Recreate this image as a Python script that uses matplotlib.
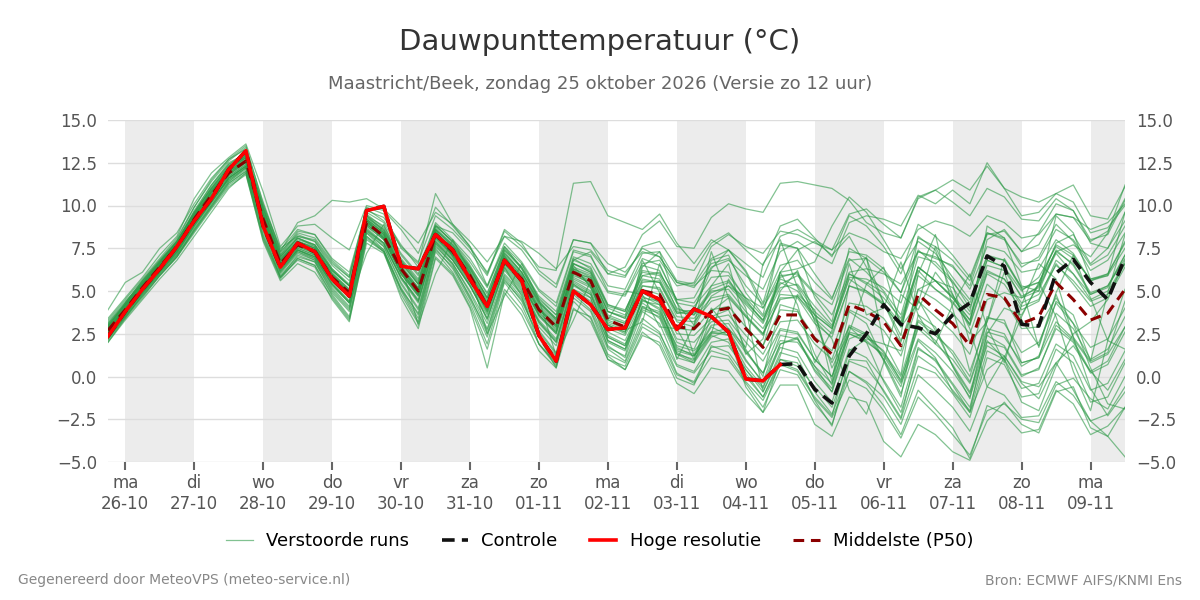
import numpy as np
import pandas as pd
import matplotlib
matplotlib.use('Agg')
import matplotlib.pyplot as plt
import matplotlib.dates as mdates
from matplotlib.lines import Line2D

# 6-hourly steps, zo 25-10 18 uur t/m ma 09-11 12 uur
times = pd.date_range('2026-10-25 18:00', '2026-11-09 12:00', freq='6h')
days = pd.date_range('2026-10-26', '2026-11-09', freq='D')
weekdays = ['ma', 'di', 'wo', 'do', 'vr', 'za', 'zo']
day_labels = [f"{weekdays[d.weekday()]}\n{d:%d-%m}" for d in days]

hires = [2.35, 3.8, 5.1, 6.3, 7.6, 9.1, 10.4, 12.1, 13.2, 8.8,
         6.4, 7.8, 7.3, 5.7, 4.7, 9.7, 9.95, 6.45, 6.3, 8.3,
         7.4, 5.7, 4.1, 6.8, 5.6, 2.4, 0.9, 5.0, 4.2, 2.75,
         2.85, 5.0, 4.5, 2.75, 3.95, 3.5, 2.6, -0.15, -0.25, 0.7]

control = hires + [0.75, -0.75, -1.55, 1.2, 2.5, 4.2, 3.05, 2.85, 2.5, 3.6,
                   4.3, 7.05, 6.45, 3.05, 2.95, 6.05, 6.85, 5.5, 4.5, 6.95]

p50 = [2.7, 3.9, 5.2, 6.4, 7.6, 9.2, 10.6, 11.9, 12.6, 9.2,
       6.6, 7.7, 7.3, 5.8, 4.9, 9.0, 8.2, 6.3, 5.0, 8.3,
       7.3, 5.9, 4.1, 6.8, 5.7, 3.9, 2.9, 6.1, 5.6, 3.3,
       2.9, 5.0, 4.8, 2.9, 2.8, 3.8, 4.0, 2.8, 1.7, 3.6,
       3.6, 2.2, 1.3, 4.2, 3.8, 3.2, 1.8, 4.8, 3.9, 3.1,
       1.8, 4.8, 4.6, 3.1, 3.5, 5.5, 4.5, 3.3, 3.7, 5.1]

members = [
    [3.0,4.2,5.5,6.6,7.9,9.6,11.0,12.3,12.9,9.8, 7.0,8.1,7.6,6.2,5.3,9.4,8.5,6.8,5.6,8.9, 7.8,6.4,4.6,7.4,6.3,4.6,3.6,6.9,6.3,4.1, 3.8,6.1,5.9,4.0,3.6,4.9,5.3,4.2,3.1,5.2, 5.4,4.1,3.0,6.0,5.5,4.9,3.2,6.4,5.6,4.6, 3.3,6.5,6.2,4.7,5.2,7.2,6.0,4.8,5.3,6.9],
    [2.4,3.6,4.9,6.1,7.2,8.8,10.2,11.6,12.3,8.7, 6.1,7.3,6.9,5.3,4.3,8.5,7.8,5.8,4.4,7.8, 6.8,5.3,3.4,6.2,5.0,3.2,2.1,5.4,4.8,2.4, 1.9,4.1,3.8,1.8,1.5,2.6,2.8,1.4,0.2,2.1, 2.0,0.6,-0.4,2.5,2.0,1.3,-0.2,2.8,1.9,1.0, -0.4,2.6,2.3,0.8,1.1,3.2,2.2,0.8,1.3,2.9],
    [2.9,4.3,5.6,6.8,8.0,9.9,11.4,12.6,13.4,10.2, 7.4,8.6,8.3,6.9,6.1,9.8,9.1,7.6,6.7,9.4, 8.6,7.5,6.1,8.2,7.4,6.0,5.2,8.0,7.8,6.0, 5.8,7.6,7.9,6.4,6.2,7.8,8.4,7.4,6.5,8.8, 9.2,8.1,7.0,9.4,8.8,7.6,6.0,8.9,8.2,7.1, 5.8,8.4,8.1,6.4,7.0,8.9,7.9,6.2,6.8,8.4],
    [2.2,3.5,4.7,5.9,7.0,8.6,10.0,11.4,12.1,8.3, 5.9,7.0,6.7,4.9,3.8,8.2,7.4,5.2,3.6,7.4, 6.4,4.7,2.5,5.7,4.4,2.3,1.2,4.8,3.9,1.6, 0.9,3.4,2.6,0.2,-0.4,1.2,1.0,-0.4,-1.8,0.4, 0.1,-1.6,-2.8,0.3,-0.3,-1.2,-2.8,0.1,-0.8,-1.8, -3.2,-0.6,-1.1,-2.4,-2.3,-0.3,-1.1,-2.6,-2.2,-0.6],
    [3.4,4.6,5.8,7.1,8.2,10.4,11.9,12.8,13.6,10.8, 7.6,8.8,8.9,8.1,7.4,10.0,9.7,8.6,7.2,9.9, 8.8,7.6,5.3,7.6,6.3,4.4,3.3,6.8,7.3,6.0, 6.4,8.3,9.1,7.6,7.5,9.3,10.1,9.8,9.6,11.3, 11.4,11.2,11.0,10.3,9.0,8.4,8.1,10.4,10.9,11.5, 10.9,12.3,11.0,10.5,10.2,10.7,11.2,9.4,9.2,11.1],
    [2.0,3.3,4.5,5.7,6.8,8.2,9.6,11.0,11.9,7.9, 5.6,6.6,6.1,4.6,3.3,7.8,7.2,4.8,3.1,7.0, 6.0,4.1,1.6,5.1,3.9,1.9,0.7,4.0,3.2,1.0, 0.4,2.6,1.8,-0.4,-1.0,0.5,0.3,-1.0,-2.1,-0.5, -0.5,-2.8,-3.5,-1.2,-1.5,-3.8,-4.7,-2.8,-3.4,-4.4, -4.9,-2.6,-1.5,-2.8,-3.3,-0.9,-0.6,-3.0,-3.5,-4.7],
    [2.6,4.0,5.3,6.5,7.6,9.3,10.8,12.0,12.8,9.5, 6.8,7.9,7.1,5.6,4.6,9.2,8.0,6.0,4.8,8.6, 7.0,5.6,3.8,7.1,5.4,3.6,2.6,6.5,5.2,3.0, 2.5,6.4,7.3,4.3,3.0,5.3,6.6,2.9,1.8,5.0, 6.2,3.6,0.5,2.6,5.4,6.4,2.9,4.3,7.6,5.4, 2.0,3.2,6.1,3.3,1.8,4.9,7.1,4.6,2.1,1.6],
    [3.2,4.4,5.4,6.7,7.8,9.6,11.2,12.5,13.0,10.0, 7.5,8.2,8.0,6.6,5.8,9.6,9.0,7.2,6.0,9.0, 8.0,6.9,5.3,7.8,6.7,5.1,4.3,7.4,7.1,5.0, 4.8,6.9,6.5,4.5,4.3,5.8,5.9,4.6,3.5,5.5, 5.0,3.6,2.8,5.7,5.0,4.3,3.1,6.2,5.1,4.4, 3.0,6.0,5.4,3.9,4.4,6.6,5.4,4.1,4.6,6.4],
    [2.3,3.7,5.0,6.2,7.3,8.9,10.3,11.5,12.2,8.9, 6.3,7.4,7.0,5.4,4.3,7.2,8.9,6.6,3.0,6.0, 8.0,6.1,2.5,4.7,6.6,4.5,1.2,3.3,5.6,2.1, 1.6,4.1,3.4,1.1,0.8,2.3,2.7,1.0,-0.4,1.9, 2.3,0.3,-0.9,2.6,2.3,1.5,-0.3,3.2,2.4,1.5, 0.0,3.5,3.1,1.4,2.0,4.3,3.1,1.7,2.2,4.0],
    [2.8,4.1,5.3,6.6,7.7,9.4,10.9,12.1,12.9,9.4, 6.9,7.9,7.6,6.0,5.1,9.2,8.4,6.6,5.4,8.6, 7.6,6.3,4.6,7.3,6.1,4.4,3.4,6.6,6.1,4.2, 3.8,6.2,6.0,4.5,4.6,6.4,6.8,5.9,5.1,7.3, 7.9,7.2,6.6,9.0,9.4,9.2,8.8,10.6,10.1,10.9, 10.1,12.5,11.0,9.4,9.6,10.7,10.2,8.4,8.7,10.0],
    [2.1,3.4,4.8,6.0,7.1,8.5,9.9,11.3,12.0,8.1, 5.8,6.8,6.4,4.5,3.2,8.0,7.3,4.6,2.8,6.9, 5.9,4.0,0.5,4.9,3.6,1.5,0.5,3.9,3.5,1.2, 0.4,2.4,2.0,-0.1,-0.5,1.8,1.4,0.0,-1.2,1.0, 0.6,-0.6,-1.8,1.0,0.9,-0.9,-2.5,0.6,0.2,-1.0, -2.4,1.1,0.7,-1.2,-1.0,1.6,0.8,-1.5,-1.2,0.8],
    [3.1,4.3,5.6,6.7,7.9,9.5,11.1,12.4,13.1,9.9, 7.1,8.4,8.1,6.7,5.8,9.7,9.3,7.7,6.4,8.8, 8.4,7.3,5.9,8.5,7.6,6.4,6.2,11.3,11.4,9.4, 9.0,8.6,9.5,7.8,6.6,8.0,7.4,6.2,4.3,7.7, 7.5,6.0,4.6,6.9,6.1,5.0,3.6,7.0,6.7,5.6, 4.0,7.1,6.8,5.2,5.5,7.7,7.1,5.6,5.9,7.5],
    [2.5,3.8,5.1,6.3,7.5,9.0,10.5,11.8,12.5,9.1, 6.5,7.6,7.4,5.9,4.9,9.1,8.1,6.2,4.8,8.5, 7.2,5.8,4.0,6.9,5.5,3.7,2.8,6.3,5.3,3.1, 2.7,3.2,6.6,4.4,1.2,2.5,5.7,4.0,-0.9,1.2, 4.8,3.9,-0.3,5.4,7.0,2.0,0.1,6.0,8.3,4.0, 0.3,3.2,6.9,5.2,1.7,4.8,2.3,-0.7,-2.3,-0.9],
    [2.9,4.1,5.4,6.5,7.7,9.3,10.7,12.2,12.8,9.3, 6.7,7.8,7.5,6.1,5.1,9.1,8.3,6.4,5.2,8.4, 7.4,6.0,4.3,7.0,5.9,4.0,3.0,6.0,5.8,3.5, 3.1,5.5,5.6,3.7,3.9,6.3,7.4,6.1,4.0,5.8, 6.1,3.2,0.8,2.9,2.0,-0.3,-2.1,1.2,0.5,-0.8, -2.0,2.5,4.0,3.6,5.4,7.8,8.3,6.6,7.5,9.6],
    [2.6,3.9,5.2,6.4,7.6,9.2,10.6,11.8,12.6,9.0, 6.4,7.6,7.2,5.7,4.7,8.9,8.1,6.1,4.9,8.2, 7.1,5.8,4.0,6.6,5.6,3.8,2.7,5.9,5.5,3.2, 2.8,6.8,4.9,1.0,3.0,7.3,4.6,1.3,2.2,6.1, 4.2,0.8,2.7,6.6,3.6,4.0,6.7,3.6,1.9,4.2, 6.0,2.9,0.8,4.2,6.6,5.7,2.3,0.9,4.9,8.3],
    [2.3,3.6,4.9,6.1,7.2,8.7,10.1,11.4,12.2,8.6, 6.0,7.2,6.8,5.1,4.0,8.4,7.6,5.4,3.9,7.6, 6.6,4.9,2.8,5.9,4.8,2.7,1.4,5.0,4.1,1.8, 1.1,3.8,3.1,0.7,0.3,2.0,2.2,0.4,-0.9,1.4, 1.1,-0.9,-2.2,0.3,-0.4,-1.7,-3.4,-0.8,-1.9,-3.0, -4.8,-1.7,-2.2,-3.3,-3.1,-0.8,-1.6,-3.4,-2.9,-1.8],
    [2.8,4.0,5.2,6.5,7.7,9.4,10.8,12.0,12.7,9.4, 6.8,7.9,7.5,6.0,5.0,9.2,8.4,6.4,5.1,8.4, 7.5,6.1,4.4,7.1,6.0,4.2,3.2,6.4,6.0,3.8, 3.4,5.6,5.5,3.7,3.7,5.1,5.5,4.3,3.3,5.9, 6.0,4.9,4.2,6.8,6.9,6.1,4.9,8.1,7.6,6.8, 5.6,8.4,8.0,6.6,6.8,8.6,8.0,6.5,7.1,8.8],
    [2.4,3.7,5.0,6.2,7.4,8.9,10.2,11.6,12.3,8.8, 6.2,7.4,7.0,5.4,4.4,8.6,7.7,5.8,4.5,7.9, 6.8,5.3,3.6,6.4,4.7,1.9,0.6,5.1,4.4,2.1, 1.6,4.5,3.9,1.6,1.3,3.0,3.1,1.5,0.2,2.7, 2.5,1.0,0.0,3.0,2.5,1.4,0.0,3.3,2.6,1.3, -0.3,2.8,2.5,0.6,1.2,3.7,2.8,1.0,1.6,3.5],
    [3.3,4.5,5.7,6.9,8.1,9.9,11.5,12.7,13.3,9.9, 7.3,9.0,9.4,10.3,10.2,10.4,9.8,8.8,7.8,9.6, 8.9,7.9,6.7,8.2,7.9,7.2,6.3,7.6,7.4,6.2, 5.9,7.5,7.0,5.5,5.2,6.6,6.9,5.3,4.2,6.5, 6.8,5.5,4.5,7.3,7.1,6.3,4.9,7.4,6.5,5.5, 4.3,6.8,6.4,5.0,5.8,7.6,6.9,5.7,6.0,7.8],
    [2.5,3.8,5.0,6.2,7.4,9.0,10.4,11.7,12.4,9.0, 6.4,7.5,7.1,5.6,4.6,8.8,8.0,6.0,4.7,8.1, 7.0,5.5,3.7,6.5,5.3,3.3,2.2,5.6,5.0,2.6, 2.1,4.3,3.6,1.4,0.9,2.4,2.0,0.2,-1.2,0.8, 0.4,-1.2,-2.3,1.5,2.2,1.9,1.5,5.1,5.6,5.2, 3.8,8.0,8.6,7.3,8.4,10.1,9.7,8.0,8.3,10.3],
    [2.9,4.2,5.5,6.7,7.9,9.7,11.2,12.4,13.0,9.7, 7.2,8.5,8.3,6.8,5.9,9.9,9.5,7.5,6.6,10.7, 8.9,7.6,6.0,8.6,7.8,6.2,5.4,8.0,7.8,6.6, 6.1,7.3,7.0,5.5,5.3,6.2,6.1,4.5,3.2,5.7, 5.3,3.8,2.9,6.0,5.4,4.6,3.4,6.4,5.6,4.7, 3.6,6.2,5.7,4.3,4.8,6.5,5.6,4.4,4.8,6.6],
    [2.2,3.5,4.8,6.0,7.1,8.6,10.0,11.3,12.0,8.5, 5.8,7.1,6.7,5.0,3.9,8.4,7.4,5.1,3.7,7.7, 6.5,4.6,2.7,5.8,4.6,2.6,1.3,5.4,4.6,1.7, 1.2,4.7,4.2,1.3,0.8,3.5,3.9,1.6,0.0,4.2, 3.9,1.3,-0.5,3.8,3.1,0.9,-1.2,3.6,2.9,0.6, -1.3,3.4,3.3,0.8,1.1,4.4,3.6,0.9,1.4,4.4],
    [3.9,5.5,6.1,7.5,8.4,10.1,11.6,12.7,13.5,10.1, 7.3,8.3,7.9,6.3,5.3,9.5,8.7,6.8,5.5,8.8, 7.9,6.5,4.8,7.5,6.4,4.5,3.6,6.8,6.4,4.2, 3.9,5.9,6.1,4.3,4.1,5.3,5.6,4.4,3.3,5.4, 5.9,4.8,3.6,6.1,6.3,6.0,5.4,7.3,6.9,6.5, 5.1,7.6,7.3,6.1,6.3,8.0,7.2,5.6,6.0,7.9],
    [2.0,3.4,4.6,5.9,7.0,8.4,9.8,11.1,11.8,8.0, 5.7,6.9,6.5,4.7,3.4,8.1,7.3,5.0,3.2,7.3, 6.1,4.3,1.9,5.5,4.2,1.9,0.8,4.4,3.4,1.0, 0.6,2.9,2.3,0.1,-0.3,1.7,1.8,0.4,-0.7,1.9, 2.2,0.6,-0.9,2.2,2.6,1.0,-1.0,2.1,1.1,-0.9, -2.1,0.4,1.2,-0.4,-1.3,0.8,1.8,0.3,-0.8,1.0],
    [3.1,4.3,5.6,6.8,7.9,9.6,11.0,12.3,13.0,9.8, 7.1,8.2,7.9,6.5,5.6,9.4,8.8,7.1,5.9,8.8, 7.9,6.7,5.2,7.6,6.6,5.0,4.1,7.3,7.0,5.3, 5.1,7.2,7.3,5.6,5.4,6.9,7.4,6.6,5.8,8.2, 8.6,8.0,7.4,9.5,9.8,8.9,8.1,10.5,10.9,10.2, 9.4,11.0,10.5,9.2,9.1,10.4,9.7,7.8,7.5,9.1],
    [2.7,4.0,5.3,6.5,7.6,9.2,10.6,11.9,12.6,9.3, 6.7,7.8,7.4,5.9,4.9,9.0,8.3,6.3,5.1,8.3, 7.3,5.9,4.2,6.9,5.8,4.0,3.0,6.2,5.7,3.4, 3.1,5.3,5.1,3.2,2.9,4.7,5.3,4.6,4.0,6.1, 6.3,6.7,8.8,10.5,9.6,8.0,6.3,7.9,7.2,5.8, 4.5,7.0,6.8,5.1,5.5,7.3,6.6,4.9,5.3,7.1],
    [2.4,3.7,5.0,6.2,7.3,8.8,10.2,11.6,12.3,8.8, 6.2,7.4,6.9,5.4,4.3,8.7,7.8,5.7,4.3,8.0, 6.9,5.4,3.3,6.4,5.2,3.2,2.0,5.5,4.9,2.3, 1.8,4.5,4.0,1.7,1.2,2.9,2.4,-0.6,-2.1,1.0, 0.8,-1.4,-2.9,0.9,0.5,-0.8,-2.4,1.6,1.0,-0.4, -1.8,2.0,1.7,0.0,0.5,2.8,2.0,0.2,0.7,2.6],
    [3.0,4.2,5.4,6.6,7.8,9.5,10.9,12.2,12.9,9.6, 7.0,8.1,7.7,6.3,5.4,9.3,8.6,6.9,5.7,8.6, 7.7,6.4,4.9,7.4,6.4,4.7,3.8,7.0,6.6,4.9, 4.7,6.6,6.8,5.3,5.5,7.6,8.3,7.6,7.2,8.5, 8.3,7.8,7.4,8.4,8.0,7.3,6.9,8.6,9.1,8.8, 8.2,9.4,9.0,8.1,8.3,9.5,9.3,8.6,9.0,10.1],
    [2.6,3.9,5.1,6.3,7.5,9.1,10.5,11.8,12.5,9.1, 6.5,7.7,7.3,5.7,4.8,8.9,8.1,6.2,4.9,8.2, 7.2,5.7,3.9,6.7,5.5,3.6,2.5,6.0,5.4,3.0, 2.6,4.9,4.3,2.0,1.6,3.8,4.6,3.5,2.4,6.1, 7.4,7.9,7.1,8.2,6.4,4.3,2.1,4.5,2.7,0.6, -1.0,2.1,1.0,-1.5,-2.0,0.6,2.5,3.2,4.5,6.8],
    [2.3,3.6,4.9,6.1,7.3,8.8,10.2,11.5,12.2,8.7, 6.1,7.3,6.8,5.2,4.1,8.5,7.6,5.5,4.0,7.8, 6.6,5.0,3.1,6.0,4.9,2.9,1.8,5.1,4.6,2.0, 1.5,3.9,3.5,1.3,1.0,2.5,2.6,0.9,-0.3,2.4, 2.2,0.4,-0.7,2.9,2.4,1.0,-0.6,3.0,2.1,0.7, -0.9,2.4,1.8,0.1,0.4,3.0,2.1,0.3,0.9,2.9],
    [2.8,4.0,5.3,6.5,7.7,9.3,10.8,12.0,12.7,9.3, 6.7,7.9,7.5,5.9,4.9,9.1,8.3,6.4,5.0,8.4, 7.4,6.0,4.1,6.9,5.7,3.9,2.9,6.1,5.5,3.3, 2.9,5.1,4.8,2.8,2.7,3.9,4.1,2.9,1.8,3.9, 3.8,2.3,1.5,4.3,4.1,3.4,2.0,5.1,4.5,3.7, 2.5,5.4,4.5,2.8,2.9,4.6,3.1,0.5,-1.6,-1.9],
    [2.9,4.2,5.4,6.6,7.8,9.4,10.8,12.1,12.8,9.5, 6.9,8.0,7.7,6.2,5.3,9.3,8.5,6.7,5.4,8.6, 7.6,6.2,4.5,7.2,6.1,4.3,3.4,6.6,6.2,4.0, 3.6,5.9,5.7,3.8,3.6,5.0,5.1,3.8,2.8,4.8, 4.7,3.4,2.5,5.3,4.9,4.2,2.9,5.9,5.1,4.3, 3.1,6.1,5.7,4.1,4.5,6.8,6.0,4.5,5.0,6.6],
    [2.2,3.5,4.7,5.9,7.0,8.5,9.9,11.2,11.9,8.2, 5.8,6.9,6.5,4.8,3.5,8.2,7.3,5.1,3.4,7.5, 6.3,4.5,2.3,5.6,4.5,2.3,0.5,4.6,3.8,1.3, 0.8,3.1,2.5,0.6,0.2,1.5,1.2,-0.3,-1.4,0.7, 0.3,-1.3,-2.4,-0.2,-0.7,-2.0,-3.6,-1.2,-2.2,-3.4, -4.6,-2.0,-1.6,-2.5,-2.7,-0.5,-0.1,-1.3,-1.9,0.0],
    [2.7,4.0,5.2,6.4,7.6,9.2,10.6,11.9,12.6,9.2, 6.6,7.7,7.3,5.8,4.9,9.0,8.2,6.3,5.0,8.3, 7.3,5.9,4.1,6.9,5.7,3.9,3.0,6.3,5.9,3.8, 3.5,6.5,6.2,3.9,3.8,6.8,7.1,4.9,3.6,7.8, 7.5,4.6,3.2,7.5,6.9,4.3,2.4,8.2,7.4,4.8, 3.0,8.8,8.1,5.3,5.0,9.4,8.4,5.7,5.9,9.6],
    [2.4,3.7,4.9,6.1,7.3,8.9,10.3,11.6,12.3,8.9, 6.3,7.4,7.0,5.5,4.4,8.6,7.8,5.8,4.4,7.9, 6.8,5.3,3.4,6.3,5.1,3.1,2.0,5.3,4.8,2.3, 1.8,4.0,3.7,1.5,1.2,2.6,2.4,0.6,-0.6,1.7, 1.4,-0.3,-1.5,1.6,1.1,-0.2,-1.8,1.7,0.9,-0.5, -2.1,1.5,1.0,-0.7,-0.4,1.9,1.2,-0.8,-0.4,1.5],
    [2.6,3.9,5.2,6.4,7.6,9.1,10.6,11.9,12.6,9.2, 6.6,7.7,7.3,5.8,4.9,9.0,8.2,6.3,5.0,8.3, 7.3,5.9,4.1,6.8,5.7,3.9,2.9,6.1,5.6,3.3, 5.0,4.8,2.9,2.8,1.0,4.0,2.8,1.7,6.6,8.0, 5.2,3.3,2.2,-0.8,-2.2,0.8,4.8,3.9,6.1,4.8, 2.8,-0.6,1.1,3.5,5.5,3.5,0.3,-2.0,2.1,5.1],
    [2.7,4.0,5.2,6.4,7.6,9.2,10.7,12.0,12.6,9.1, 6.5,7.6,7.2,5.7,4.7,8.9,8.1,6.1,4.8,8.2, 7.1,5.7,3.9,6.6,5.5,3.6,2.6,5.8,5.3,3.0, 2.6,4.6,4.4,2.5,2.4,3.4,3.6,2.4,1.3,3.2, 3.3,1.9,1.0,3.9,3.4,2.7,1.2,4.4,3.5,2.6, 1.3,4.5,4.9,4.6,5.3,7.3,7.7,7.0,8.4,11.2],
    [3.0,4.2,5.5,6.7,7.9,9.5,11.0,12.2,12.9,9.6, 7.0,8.1,7.7,6.2,5.3,9.4,8.6,6.7,5.4,8.7, 7.7,6.3,4.6,7.2,6.1,4.3,3.3,6.6,6.1,3.8, 3.4,5.7,5.5,3.5,3.4,4.6,4.8,3.6,2.5,4.6, 4.6,3.1,2.3,5.3,5.0,4.2,2.9,6.4,5.6,4.6, 3.3,6.8,6.4,4.6,5.0,7.4,6.5,4.8,5.2,7.1],
    [2.5,3.8,5.1,6.3,7.5,9.0,10.4,11.7,12.4,9.0, 6.4,7.5,7.1,5.6,4.6,8.8,8.0,6.0,4.7,8.1, 7.1,5.6,3.8,6.6,5.4,3.5,2.5,5.7,5.2,2.8, 2.4,4.4,4.2,2.2,2.0,3.2,3.3,2.0,0.9,2.8, 2.6,1.0,0.0,2.5,2.1,1.2,-0.4,2.2,1.4,0.3, -1.2,1.8,1.2,-0.3,-0.6,0.8,-0.8,-2.6,-3.5,-1.8],
    [2.8,4.1,5.4,6.6,7.8,9.4,10.8,12.1,12.8,9.4, 6.8,7.9,7.5,6.0,5.0,9.2,8.4,6.5,5.2,8.5, 7.5,6.1,4.3,7.0,5.9,4.1,3.1,6.3,5.8,3.6, 3.2,5.3,5.2,3.3,3.2,4.4,4.7,3.5,2.5,4.5, 4.7,3.6,2.8,5.8,5.7,5.2,4.3,7.3,7.0,6.4, 5.3,8.3,8.5,7.3,7.7,9.5,9.3,7.9,8.5,10.4],
]

yticks = [-5.0, -2.5, 0.0, 2.5, 5.0, 7.5, 10.0, 12.5, 15.0]

fig = plt.figure(figsize=(12, 6), dpi=100)
ax = fig.add_axes([0.09, 0.23, 0.8475, 0.57])

# grijze banden om de dag
for d in days[::2]:
    ax.axvspan(d, d + pd.Timedelta(days=1), color='#ececec', zorder=0, lw=0)

dash_c = (0, (3.5, 2))
dash_p = (0, (3.5, 2.2))
for m in members:
    ax.plot(times, m, color='#2e9a48', alpha=0.6, lw=0.9, zorder=2)
ax.plot(times, p50, color='#8b0000', lw=2.2, ls=dash_p, zorder=3)
ax.plot(times, control, color='#111111', lw=2.6, ls=dash_c, zorder=4)
ax.plot(times[:len(hires)], hires, color='#ff0000', lw=2.6, zorder=5)

ax.set_xlim(times[0], times[-1])
ax.set_ylim(-5, 15)
ax.set_yticks(yticks)
ax.set_yticklabels([f'{v:.1f}'.replace('-', '\u2212') for v in yticks])
ax.set_xticks(days)
ax.set_xticklabels(day_labels)
ax.grid(axis='y', color='#dddddd', lw=1, zorder=1)
ax.set_axisbelow(True)
for s in ax.spines.values():
    s.set_visible(False)
ax.tick_params(axis='y', which='both', length=0, labelsize=12, labelcolor='#555555',
               labelleft=True, labelright=True, pad=8)
ax.tick_params(axis='x', length=6, width=1.5, color='#666666', labelsize=12,
               labelcolor='#555555', pad=3)

fig.text(0.5, 0.93, 'Dauwpunttemperatuur (°C)', ha='center', va='center',
         fontsize=21, color='#333333')
fig.text(0.5, 0.86, 'Maastricht/Beek, zondag 25 oktober 2026 (Versie zo 12 uur)',
         ha='center', va='center', fontsize=13, color='#666666')

handles = [Line2D([], [], color='#2e9a48', alpha=0.6, lw=0.9),
           Line2D([], [], color='#111111', lw=2.6, ls=dash_c),
           Line2D([], [], color='#ff0000', lw=2.6),
           Line2D([], [], color='#8b0000', lw=2.2, ls=dash_p)]
fig.legend(handles, ['Verstoorde runs', 'Controle', 'Hoge resolutie', 'Middelste (P50)'],
           loc='center', bbox_to_anchor=(0.5, 0.098), ncol=4, frameon=False,
           fontsize=13, handlelength=1.45, columnspacing=1.8, handletextpad=0.75)

fig.text(0.015, 0.033, 'Gegenereerd door MeteoVPS (meteo-service.nl)', ha='left',
         va='center', fontsize=10, color='#888888')
fig.text(0.985, 0.033, 'Bron: ECMWF AIFS/KNMI Ens', ha='right', va='center',
         fontsize=10, color='#888888')

fig.savefig('out.png', dpi=100)
